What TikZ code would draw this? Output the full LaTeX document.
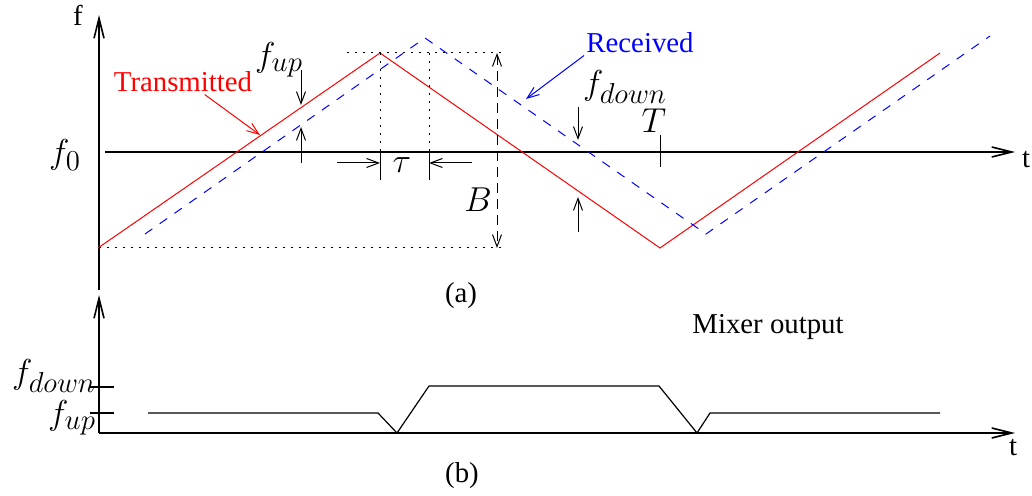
\documentclass[tikz,border=0pt]{standalone}
\usepackage{fontspec}
\setmainfont{Liberation Serif}
\usepackage{tikz}
\usetikzlibrary{arrows.meta,positioning}
\definecolor{txred}{RGB}{255,0,0}
\definecolor{rxblue}{RGB}{0,0,255}
\DeclareMathSizes{16}{16}{13.5}{10}

\begin{document}
\begin{tikzpicture}[x=0.5pt, y=-0.5pt,
    axis/.style={line width=0.8pt, -{Straight Barb[length=10pt,width=5pt]}},
    meas/.style={line width=0.5pt, -{Straight Barb[length=6pt,width=4.5pt]}},
    txline/.style={txred, line width=0.5pt},
    rxline/.style={rxblue, line width=0.5pt, dash pattern=on 4.5pt off 4.5pt},
    guide/.style={line width=0.5pt, dash pattern=on 1pt off 3pt},
    word/.style={font=\Large, inner sep=1pt},
    sym/.style={font=\fontsize{16}{19}\selectfont, inner sep=0pt},
]
    \useasboundingbox (0,0) rectangle (1032,496);

    % (a) frequency / time axes
    \coordinate (fa0) at (99,290);
    \coordinate (fa1) at (99,15);
    \coordinate (ta0) at (105,152);
    \coordinate (ta1) at (1015,152);
    \draw[axis] (fa0) -- (fa1);
    \draw[axis] (ta0) -- (ta1);
    \node[word] (flabel) at (78,15) {f};
    \node[word] (tlabel) at (1026,160) {t};
    \node[sym] (fzero) at (65,155) {$f_0$};

    % Transmitted and received chirps
    \foreach \x/\y [count=\i] in {98/248, 380/53, 660/248, 940/53}
        \coordinate (tx\i) at (\x,\y);
    \foreach \x/\y [count=\i] in {145/234, 425/38, 706/234, 990/36}
        \coordinate (rx\i) at (\x,\y);
    \draw[txline] (tx1) -- (tx2) -- (tx3) -- (tx4);
    \draw[rxline] (rx1) -- (rx2) -- (rx3) -- (rx4);

    % Bandwidth guides
    \coordinate (gtl) at (347,53);
    \coordinate (gtr) at (502,53);
    \coordinate (gbl) at (99,248);
    \coordinate (gbr) at (502,248);
    \draw[guide] (gtl) -- (gtr);
    \draw[guide] (gbl) -- (gbr);

    % Delay markers
    \coordinate (dl0) at (380,53);
    \coordinate (dl1) at (380,152);
    \coordinate (dl2) at (380,180);
    \coordinate (dr0) at (429,53);
    \coordinate (dr1) at (429,152);
    \coordinate (dr2) at (429,180);
    \draw[guide] (dl0) -- (dl1);
    \draw[guide] (dr0) -- (dr1);
    \draw (dl1) -- (dl2);
    \draw (dr1) -- (dr2);
    \coordinate (taul) at (337,163);
    \coordinate (taur) at (472,163);
    \draw[meas] (taul) -- (taul -| dl1);
    \draw[meas] (taur) -- (taur -| dr1);
    \node[sym] (tau) at (402,165) {$\tau$};

    % Sweep bandwidth
    \coordinate (bwt) at (497,53);
    \coordinate (bwb) at (497,248);
    \draw[meas, {Straight Barb[length=6pt,width=4.5pt]}-{Straight Barb[length=6pt,width=4.5pt]},
        dash pattern=on 5pt off 3pt] (bwt) -- (bwb);
    \node[sym] (blabel) at (478,200) {$B$};

    % Beat frequencies
    \coordinate (fu0) at (301,70);
    \coordinate (fu1) at (301,105);
    \coordinate (fu2) at (301,163);
    \coordinate (fu3) at (301,127);
    \draw[meas] (fu0) -- (fu1);
    \draw[meas] (fu2) -- (fu3);
    \node[sym] (fuplabel) at (279,60) {$f_{up}$};
    \coordinate (fd0) at (578,107);
    \coordinate (fd1) at (578,140);
    \coordinate (fd2) at (578,232);
    \coordinate (fd3) at (578,197);
    \draw[meas] (fd0) -- (fd1);
    \draw[meas] (fd2) -- (fd3);
    \node[sym] (fdownlabel) at (625,87) {$f_{down}$};

    % Period mark
    \coordinate (pt0) at (660,135);
    \coordinate (pt1) at (660,167);
    \draw (pt0) -- (pt1);
    \node[sym] (tperiod) at (654,121) {$T$};

    % Curve labels
    \node[word, text=txred] (txlabel) at (183,82) {Transmitted};
    \coordinate (txhit) at (260,135);
    \draw[meas, txred] (txlabel.-30) -- (txhit);
    \node[word, text=rxblue] (rxlabel) at (640,43) {Received};
    \coordinate (rxhit) at (526,99);
    \draw[meas, rxblue] (rxlabel.south west) -- (rxhit);

    \node[word] (capa) at (461,296) {(a)};

    % (b) mixer output axes
    \coordinate (mo) at (99,433);
    \coordinate (my) at (99,295);
    \coordinate (mx) at (1015,433);
    \draw[axis] (mo) -- (my);
    \draw[axis] (mo) -- (mx);
    \node[word] (tlabelb) at (1013,448) {t};

    % Level ticks
    \coordinate (kd0) at (90,387);
    \coordinate (kd1) at (114,387);
    \coordinate (ku0) at (90,413);
    \coordinate (ku1) at (114,413);
    \draw[line width=0.6pt] (kd0) -- (kd1);
    \draw[line width=0.6pt] (ku0) -- (ku1);
    \node[sym] (fdownlevel) at (54,376) {$f_{down}$};
    \node[sym] (fuplevel) at (72,418) {$f_{up}$};

    % Beat signal
    \foreach \x/\y [count=\i] in {148/413, 378/413, 397/433, 429/386,
                                  659/386, 697/433, 710/413, 940/413}
        \coordinate (mix\i) at (\x,\y);
    \draw[line width=0.6pt] (mix1) \foreach \i in {2,...,8} {-- (mix\i)};
    \node[word] (mixer) at (768,327) {Mixer output};

    \node[word] (capb) at (462,476) {(b)};
\end{tikzpicture}
\end{document}
